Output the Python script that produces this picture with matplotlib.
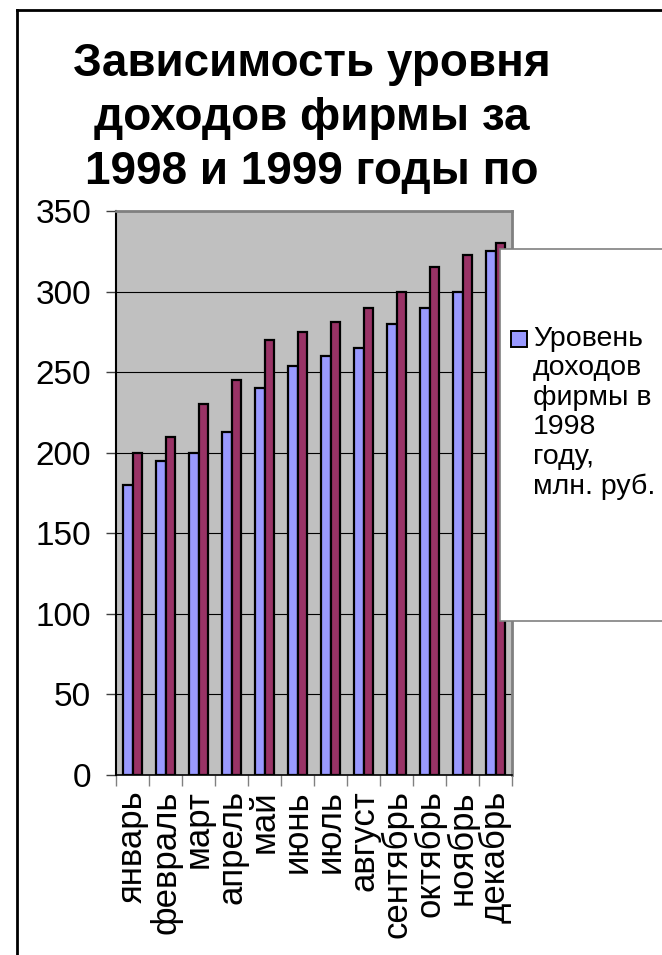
import matplotlib
matplotlib.use("Agg")
import matplotlib.pyplot as plt
from matplotlib.patches import Rectangle
from matplotlib.lines import Line2D
import numpy as np

months = ["январь", "февраль", "март", "апрель", "май", "июнь",
          "июль", "август", "сентябрь", "октябрь", "ноябрь", "декабрь"]
income1998 = [180, 195, 200, 213, 240, 254, 260, 265, 280, 290, 300, 325]
income1999 = [200, 210, 230, 245, 270, 275, 281, 290, 300, 315, 323, 330]
title_lines = ["Зависимость уровня", "доходов фирмы за", "1998 и 1999 годы по"]
legend_label = "Уровень\nдоходов\nфирмы в\n1998\nгоду,\nмлн. руб."

plt.rcParams['font.family'] = ['Liberation Sans', 'DejaVu Sans']

W, H = 662, 955
fig = plt.figure(figsize=(W / 100, H / 100), dpi=100)

def fx(px):
    return px / W

def fy(py):
    return 1 - py / H

ax = fig.add_axes([fx(116), fy(775), fx(512) - fx(116), fy(211) - fy(775)])
ax.set_facecolor("#C0C0C0")

x = np.arange(len(months))
w = 0.29
bars98 = ax.bar(x - w / 2, income1998, w, color="#9999FF", edgecolor="black",
                linewidth=1.6, zorder=3)
ax.bar(x + w / 2, income1999, w, color="#993366", edgecolor="black",
       linewidth=1.6, zorder=3)

ax.set_xlim(-0.5, len(months) - 0.5)
ax.set_ylim(0, 350)
ax.set_yticks(range(0, 351, 50))
ax.yaxis.grid(True, color="black", linewidth=0.8, zorder=1)
ax.set_axisbelow(True)

ax.set_xticks(x)
ax.set_xticklabels(months, rotation=90, fontsize=25)
ax.set_xticks(np.arange(-0.5, len(months), 1), minor=True)
ax.tick_params(axis="x", which="major", length=0, pad=11)
ax.tick_params(axis="x", which="minor", length=8, width=1, color="#808080")
ax.tick_params(axis="y", length=7, width=1, color="#404040", pad=11, labelsize=24)

for s in ("top", "right"):
    ax.spines[s].set_color("#808080")
    ax.spines[s].set_linewidth(2)
ax.spines["left"].set_color("black")
ax.spines["left"].set_linewidth(1.5)
ax.spines["bottom"].set_color("black")
ax.spines["bottom"].set_linewidth(1.2)

# title
cx = fx(312)
for i, line in enumerate(title_lines):
    fig.text(cx, fy(76 + 54 * i), line, ha="center", va="baseline",
             fontsize=33, fontweight="bold")

# outer chart border (clipped by the picture edge)
fig.add_artist(Line2D([fx(17), fx(17)], [fy(10), -0.1], color="black", linewidth=2))
fig.add_artist(Line2D([fx(17), 1.1], [fy(10), fy(10)], color="black", linewidth=2))

# legend box
fig.add_artist(Rectangle((fx(500), fy(621)), 0.5, fy(249) - fy(621),
                         transform=fig.transFigure, facecolor="white",
                         edgecolor="#808080", linewidth=1.2, zorder=5))
fig.add_artist(Rectangle((fx(511), fy(347)), fx(527) - fx(511), fy(331) - fy(347),
                         transform=fig.transFigure,
                         facecolor=bars98[0].get_facecolor(),
                         edgecolor="black", linewidth=1.4, zorder=6))
fig.text(fx(533), fy(326), legend_label, ha="left", va="top", fontsize=20.5,
         linespacing=1.17, zorder=6)

fig.savefig("out.png", dpi=100)
